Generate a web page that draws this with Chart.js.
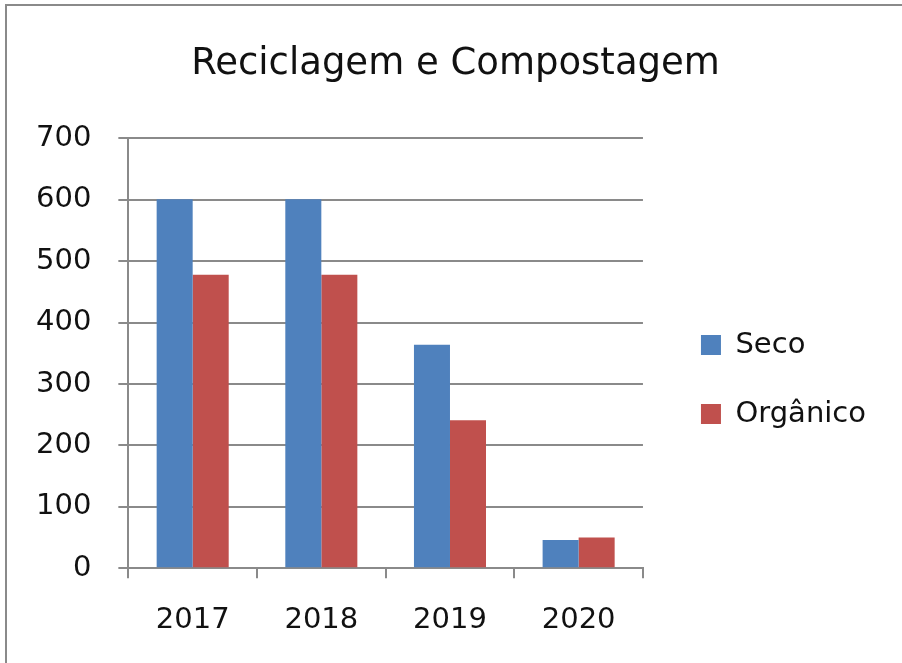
<!DOCTYPE html>
<html>
<head>
<meta charset="utf-8">
<script src="https://cdn.jsdelivr.net/npm/chart.js@4"></script>
<style>
  html, body { margin: 0; padding: 0; background: #fff; }
  #wrap { position: relative; width: 902px; height: 663px; overflow: hidden; }
  #frame { position: absolute; left: 5px; top: 4px; width: 920px; height: 700px;
           border-left: 2px solid #8a8a8a; border-top: 2px solid #8a8a8a; }
  canvas { position: absolute; left: 0; top: 0; }
</style>
</head>
<body>
<div id="wrap">
  <div id="frame"></div>
  <canvas id="c" width="902" height="663"></canvas>
</div>
<script>
var years = ['2017', '2018', '2019', '2020'];
var seco = [601, 601, 364, 46];
var organico = [478, 478, 241, 50];
var yTicks = [0, 100, 200, 300, 400, 500, 600, 700];

var fontFamily = '"DejaVu Sans", sans-serif';
var gridGray = '#8a8a8a';

var chart = new Chart(document.getElementById('c'), {
  type: 'bar',
  data: {
    labels: years,
    datasets: [
      { label: 'Seco', data: seco, backgroundColor: '#4f81bd' },
      { label: 'Orgânico', data: organico, backgroundColor: '#c0504d' }
    ]
  },
  options: {
    responsive: false,
    animation: false,
    devicePixelRatio: 1,
    datasets: { bar: { categoryPercentage: 0.56, barPercentage: 1.0 } },
    layout: { padding: { left: 9, right: 0, top: 0, bottom: 0 } },
    plugins: {
      title: {
        display: true,
        text: 'Reciclagem e Compostagem',
        color: '#111',
        font: { family: fontFamily, size: 37, weight: 'normal' },
        padding: { top: 42, bottom: 52 }
      },
      legend: {
        position: 'right',
        // blank legend title only pushes the items down
        title: { display: true, text: ' ', font: { size: 10 }, padding: { top: 84, bottom: 0 } },
        labels: {
          color: '#111',
          font: { family: fontFamily, size: 29 },
          boxWidth: 20,
          boxHeight: 20,
          padding: 40
        }
      },
      tooltip: { enabled: false }
    },
    scales: {
      x: {
        grid: { drawOnChartArea: false, drawTicks: true, tickLength: 10, color: gridGray, lineWidth: 2 },
        border: { color: gridGray, width: 2 },
        ticks: { color: '#111', font: { family: fontFamily, size: 29 }, padding: 25 }
      },
      y: {
        min: 0,
        max: 700,
        afterBuildTicks: function (axis) {
          axis.ticks = yTicks.map(function (v) { return { value: v }; });
        },
        grid: { color: gridGray, lineWidth: 2, tickLength: 10 },
        border: { color: gridGray, width: 2 },
        ticks: { color: '#111', font: { family: fontFamily, size: 29 }, padding: 27 }
      },
      // hidden spacers: one between plot and legend, one right of the legend
      gap: {
        position: 'right',
        display: false,
        afterFit: function (scale) { scale.width = 18; }
      },
      edge: {
        position: 'right',
        display: false,
        weight: 2000,
        afterFit: function (scale) { scale.width = 26; }
      }
    }
  }
});
</script>
</body>
</html>
